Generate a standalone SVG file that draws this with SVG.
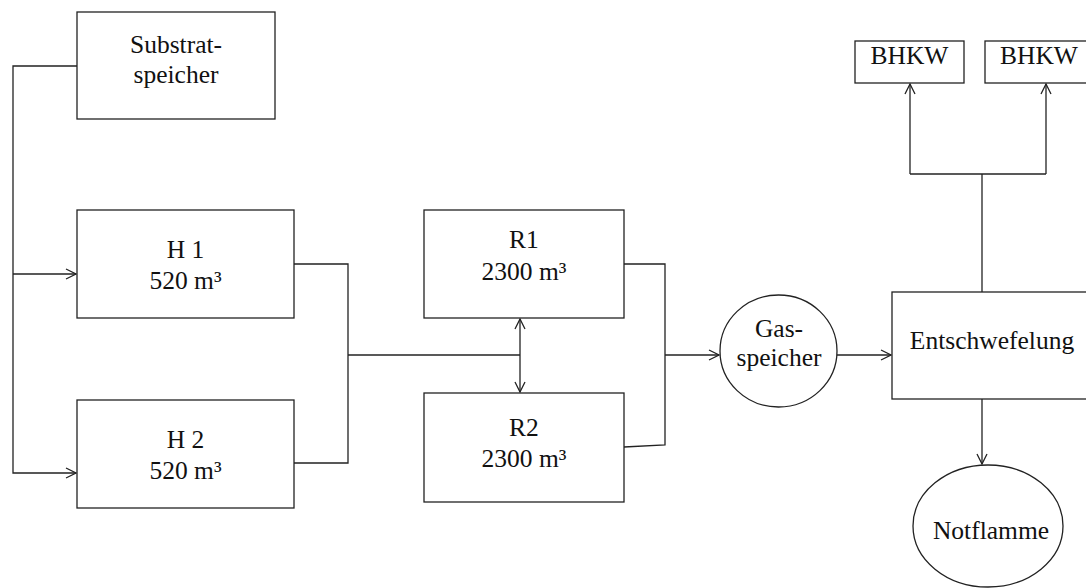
<svg xmlns="http://www.w3.org/2000/svg" width="1086" height="588" viewBox="0 0 1086 588">
<style>
.b{fill:#fff;stroke:#222;stroke-width:1.3}
.t{font-family:"Liberation Serif","Times New Roman",serif;font-size:25.5px;fill:#111;text-anchor:middle}
.c{fill:none;stroke:#222;stroke-width:1.3}
</style>
<defs>
<marker id="a" viewBox="0 0 12 12" refX="11" refY="6" markerWidth="12" markerHeight="12" markerUnits="userSpaceOnUse" orient="auto-start-reverse">
<path d="M1,1 L11,6 L1,11" fill="none" stroke="#222" stroke-width="1.3"/>
</marker>
</defs>
<rect width="1086" height="588" fill="#fff"/>
<g id="connectors">
<path class="c" d="M77,66 H13 V473 H76" marker-end="url(#a)"/>
<path class="c" d="M13,274 H76" marker-end="url(#a)"/>
<path class="c" d="M294,264 H348 V463 H294"/>
<path class="c" d="M348,355 H520"/>
<path class="c" d="M520,319 V392" marker-start="url(#a)" marker-end="url(#a)"/>
<path class="c" d="M624,264 H665 V445 L624,447"/>
<path class="c" d="M665,355 H719" marker-end="url(#a)"/>
<path class="c" d="M837,355 H891" marker-end="url(#a)"/>
<path class="c" d="M982,399 V464" marker-end="url(#a)"/>
<path class="c" d="M982,292 V174"/>
<path class="c" d="M910,174 H1046"/>
<path class="c" d="M910,174 V84" marker-end="url(#a)"/>
<path class="c" d="M1046,174 V84" marker-end="url(#a)"/>
</g>
<g id="substratspeicher">
<rect class="b" x="77" y="12" width="198" height="107"/>
<text class="t" x="176" y="53">Substrat-</text>
<text class="t" x="176" y="83">speicher</text>
</g>
<g id="h1">
<rect class="b" x="77" y="210" width="217" height="108"/>
<text class="t" x="185.5" y="258">H 1</text>
<text class="t" x="185.5" y="289">520 m³</text>
</g>
<g id="h2">
<rect class="b" x="77" y="400" width="217" height="108"/>
<text class="t" x="185.5" y="448">H 2</text>
<text class="t" x="185.5" y="479">520 m³</text>
</g>
<g id="r1">
<rect class="b" x="424" y="210" width="200" height="108"/>
<text class="t" x="524" y="248">R1</text>
<text class="t" x="524" y="280">2300 m³</text>
</g>
<g id="r2">
<rect class="b" x="424" y="393" width="200" height="109"/>
<text class="t" x="524" y="436">R2</text>
<text class="t" x="524" y="467">2300 m³</text>
</g>
<g id="gasspeicher">
<ellipse class="b" cx="778.5" cy="351" rx="58.5" ry="56"/>
<text class="t" x="779" y="337">Gas-</text>
<text class="t" x="779" y="366">speicher</text>
</g>
<g id="entschwefelung">
<rect class="b" x="892" y="292" width="200" height="107"/>
<text class="t" x="992" y="349">Entschwefelung</text>
</g>
<g id="notflamme">
<ellipse class="b" cx="988" cy="526" rx="75" ry="61"/>
<text class="t" x="991" y="539">Notflamme</text>
</g>
<g id="bhkw1">
<rect class="b" x="855" y="41" width="109" height="42"/>
<text class="t" x="909.5" y="64">BHKW</text>
</g>
<g id="bhkw2">
<rect class="b" x="985" y="41" width="109" height="42"/>
<text class="t" x="1039" y="64">BHKW</text>
</g>
</svg>
